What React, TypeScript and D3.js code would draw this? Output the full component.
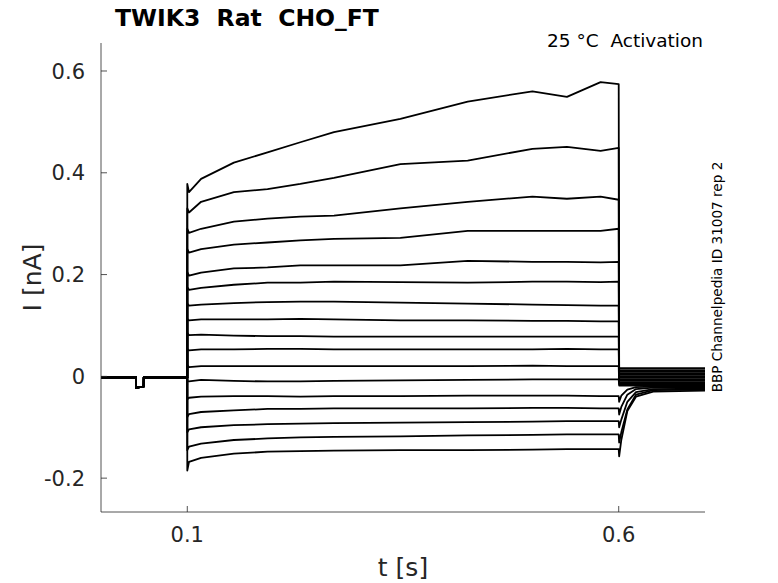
import React from 'react';
import * as d3 from 'd3';

const width = 778;
const height = 583;

// holding level before the step (shared by every sweep), with the short test pulse
const preTimes = [0, 0.0405, 0.0406, 0.0495, 0.0496, 0.1];
const preValues = [-0.002, -0.002, -0.022, -0.02, -0.002, -0.002];

// sample times (s)
const pulseTimes = [0.1, 0.102, 0.116, 0.154, 0.193, 0.231, 0.27, 0.347, 0.425, 0.5, 0.54, 0.579, 0.6];

// current of each sweep during the step (nA)
const pulseValues = [
  [0.378, 0.362, 0.388, 0.42, 0.44, 0.46, 0.48, 0.506, 0.54, 0.56, 0.549, 0.578, 0.574],
  [0.33, 0.322, 0.343, 0.362, 0.368, 0.378, 0.39, 0.417, 0.424, 0.447, 0.451, 0.443, 0.449],
  [0.29, 0.282, 0.29, 0.304, 0.31, 0.314, 0.316, 0.33, 0.343, 0.353, 0.349, 0.353, 0.347],
  [0.25, 0.243, 0.25, 0.259, 0.263, 0.267, 0.27, 0.272, 0.286, 0.286, 0.286, 0.286, 0.29],
  [0.205, 0.198, 0.204, 0.212, 0.214, 0.218, 0.218, 0.218, 0.227, 0.225, 0.225, 0.224, 0.225],
  [0.175, 0.17, 0.174, 0.18, 0.184, 0.184, 0.186, 0.185, 0.184, 0.186, 0.186, 0.185, 0.186],
  [0.143, 0.139, 0.141, 0.144, 0.146, 0.147, 0.147, 0.145, 0.143, 0.141, 0.14, 0.139, 0.139],
  [0.113, 0.11, 0.112, 0.112, 0.112, 0.113, 0.112, 0.11, 0.11, 0.109, 0.109, 0.108, 0.108],
  [0.085, 0.081, 0.082, 0.08, 0.079, 0.079, 0.078, 0.078, 0.078, 0.078, 0.078, 0.078, 0.078],
  [0.054, 0.051, 0.053, 0.053, 0.054, 0.054, 0.053, 0.053, 0.053, 0.053, 0.054, 0.053, 0.053],
  [0.022, 0.018, 0.02, 0.02, 0.02, 0.02, 0.02, 0.02, 0.02, 0.021, 0.02, 0.02, 0.02],
  [-0.008, -0.01, -0.007, -0.009, -0.01, -0.01, -0.009, -0.008, -0.007, -0.006, -0.006, -0.006, -0.006],
  [-0.045, -0.042, -0.04, -0.039, -0.039, -0.04, -0.039, -0.039, -0.038, -0.038, -0.038, -0.039, -0.039],
  [-0.08, -0.074, -0.07, -0.067, -0.064, -0.064, -0.063, -0.063, -0.063, -0.062, -0.062, -0.063, -0.063],
  [-0.11, -0.104, -0.1, -0.096, -0.094, -0.093, -0.092, -0.091, -0.09, -0.089, -0.088, -0.088, -0.088],
  [-0.145, -0.138, -0.132, -0.125, -0.122, -0.12, -0.119, -0.118, -0.116, -0.115, -0.114, -0.114, -0.114],
  [-0.185, -0.168, -0.16, -0.152, -0.148, -0.147, -0.146, -0.145, -0.145, -0.144, -0.143, -0.143, -0.143],
];

// tail after the step
const tailTimes = [0.6005, 0.603, 0.61, 0.62, 0.64, 0.7];
const tailValues = [
  [0.016, 0.016, 0.016, 0.016, 0.016, 0.016],
  [0.012, 0.012, 0.012, 0.012, 0.012, 0.012],
  [0.009, 0.009, 0.009, 0.009, 0.009, 0.009],
  [0.006, 0.006, 0.006, 0.006, 0.006, 0.006],
  [0.003, 0.003, 0.003, 0.003, 0.003, 0.003],
  [0.0, 0.0, 0.0, 0.0, 0.0, 0.0],
  [-0.003, -0.003, -0.003, -0.003, -0.003, -0.003],
  [-0.006, -0.006, -0.006, -0.006, -0.006, -0.006],
  [-0.009, -0.009, -0.009, -0.009, -0.009, -0.009],
  [-0.012, -0.012, -0.012, -0.012, -0.012, -0.012],
  [-0.015, -0.015, -0.015, -0.015, -0.015, -0.015],
  [-0.018, -0.018, -0.018, -0.018, -0.018, -0.018],
  [-0.05, -0.038, -0.026, -0.021, -0.02, -0.02],
  [-0.075, -0.06, -0.036, -0.025, -0.022, -0.022],
  [-0.1, -0.085, -0.05, -0.031, -0.025, -0.024],
  [-0.13, -0.11, -0.065, -0.036, -0.027, -0.026],
  [-0.157, -0.125, -0.068, -0.04, -0.03, -0.028],
];

const xTicks = [0.1, 0.6];
const yTicks = [-0.2, 0, 0.2, 0.4, 0.6];

const font = '"DejaVu Sans", sans-serif';
const axisColor = '#262626';

const App: React.FC = () => {
  const left = 101, right = 705, top = 43, bottom = 512;

  const x = d3.scaleLinear().domain([0, 0.7]).range([left, right]);
  const y = d3.scaleLinear().domain([-0.2665, 0.655]).range([bottom, top]);

  const line = d3.line<[number, number]>()
    .x(d => x(d[0]))
    .y(d => y(d[1]));

  const sweeps = pulseValues.map((vals, i) => {
    const pts: [number, number][] = [];
    preTimes.forEach((t, j) => pts.push([t, preValues[j]]));
    pulseTimes.forEach((t, j) => pts.push([t, vals[j]]));
    tailTimes.forEach((t, j) => pts.push([t, tailValues[i][j]]));
    return pts;
  });

  return (
    <div style={{ position: 'absolute', left: 0, top: 0 }}>
      <svg width={width} height={height} style={{ display: 'block', background: '#fff' }}>
        {/* traces */}
        <g fill="none" stroke="#000" strokeWidth={1.8} strokeLinejoin="round">
          {sweeps.map((pts, i) => (
            <path key={i} d={line(pts) ?? ''} />
          ))}
        </g>

        {/* axes */}
        <line x1={left} x2={left} y1={top} y2={bottom} stroke={axisColor} strokeWidth={0.8} />
        <line x1={left} x2={right} y1={bottom} y2={bottom} stroke={axisColor} strokeWidth={0.8} />

        {yTicks.map(t => (
          <g key={t}>
            <line x1={left} x2={left + 6} y1={y(t)} y2={y(t)} stroke={axisColor} strokeWidth={0.8} />
            <text x={left - 16} y={y(t)} dy="0.36em" textAnchor="end"
              fontFamily={font} fontSize={21} fill={axisColor}>
              {String(t)}
            </text>
          </g>
        ))}

        {xTicks.map(t => (
          <g key={t}>
            <line x1={x(t)} x2={x(t)} y1={bottom} y2={bottom - 6} stroke={axisColor} strokeWidth={0.8} />
            <text x={x(t)} y={542} textAnchor="middle" fontFamily={font} fontSize={21} fill={axisColor}>
              {String(t)}
            </text>
          </g>
        ))}

        {/* labels */}
        <text x={(left + right) / 2} y={576} textAnchor="middle" fontFamily={font} fontSize={25} fill={axisColor}>
          t [s]
        </text>
        <text transform={`translate(41,${(top + bottom) / 2}) rotate(-90)`} textAnchor="middle"
          fontFamily={font} fontSize={25} fill={axisColor}>
          I [nA]
        </text>

        <text x={115} y={26} fontFamily={font} fontSize={23.5} fontWeight="bold" fill="#000"
          style={{ whiteSpace: 'pre' }}>
          {'TWIK3  Rat  CHO_FT'}
        </text>
        <text x={703} y={47} textAnchor="end" fontFamily={font} fontSize={18.5} fill="#000"
          style={{ whiteSpace: 'pre' }}>
          {'25 °C  Activation'}
        </text>
        <text transform={`translate(722,${277}) rotate(-90)`} textAnchor="middle"
          fontFamily={font} fontSize={13.6} fill="#000">
          BBP Channelpedia ID 31007 rep 2
        </text>
      </svg>
    </div>
  );
};

export default App;
